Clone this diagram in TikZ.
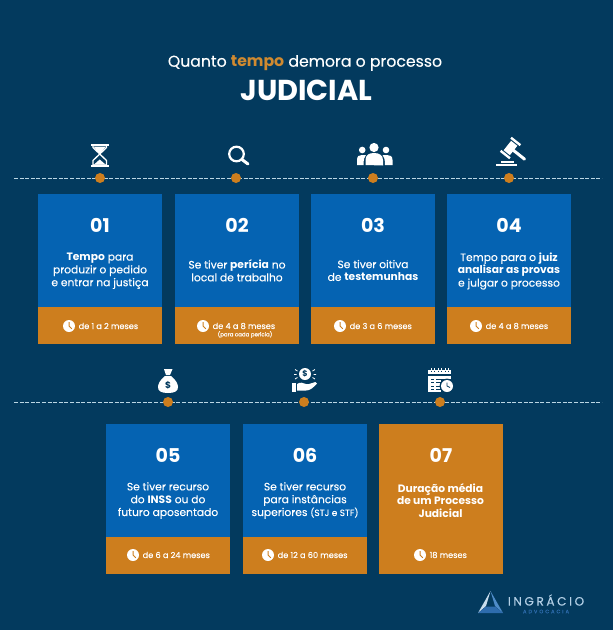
\documentclass[tikz,border=0pt]{standalone}
\usepackage{fontspec}
\setmainfont{Poppins}[UprightFeatures={FakeBold=0.25}]
\definecolor{bg}{HTML}{033A5E}
\definecolor{cardblue}{HTML}{0563B2}
\definecolor{cardorange}{HTML}{CD7E1E}
\definecolor{titleorange}{HTML}{D08A30}
\definecolor{dash}{HTML}{BBD6E4}
\definecolor{logolight}{HTML}{C9DDEE}
\definecolor{logomid}{HTML}{4F8CC9}
\definecolor{logodark}{HTML}{2E6CAD}
\definecolor{logotext}{HTML}{B4D0E6}
\tikzset{
  x=1pt,y=-1pt,
  panel/.style={inner sep=0pt,outer sep=0pt,minimum width=124pt},
  numtext/.style={text=white,font=\fontsize{19}{20}\selectfont\bfseries,inner sep=0pt},
  bodytext/.style={text=white,font=\fontsize{10.7}{12.8}\selectfont,align=center,inner sep=0pt},
  timetext/.style={text=white,font=\fontsize{8.2}{9}\selectfont,anchor=west,inner sep=0pt},
  smalltext/.style={text=white,font=\fontsize{5.5}{6}\selectfont,inner sep=0pt},
  clockface/.style={circle,fill=white,minimum size=12pt,inner sep=0pt},
  dotmark/.style={circle,fill=cardorange,minimum size=10pt,inner sep=0pt},
  timeline/.style={draw=dash,line width=0.9pt,dash pattern=on 4pt off 1.6pt},
}
% card: name, center x, top y, number, text y, text
\newcommand{\stepcard}[6]{%
  \node[panel,fill=cardblue,minimum height=113pt] (#1top) at (#2,#3+56.5) {};
  \node[panel,fill=cardorange,minimum height=37pt] (#1bot) at (#2,#3+131.5) {};
  \node[numtext] (#1num) at (#2,#3+31) {#4};
  \node[bodytext] (#1txt) at (#2,#5) {#6};
}
% time: name, clock x, y, text
\newcommand{\clockat}[4]{%
  \node[clockface] (#1clock) at (#2,#3) {};
  \draw[cardorange,line width=1pt] (#2,#3-3.8) -- (#2,#3) -- (#2+2.8,#3+2.8);
  \node[timetext] (#1time) at (#2+9.5,#3) {#4};
}
\begin{document}
\begin{tikzpicture}
\useasboundingbox (0,0) rectangle (613,630);
\fill[bg] (0,0) rectangle (613,630);
% title
\node[text=white,font=\fontsize{15.7}{17}\selectfont,inner sep=0pt] (title) at (305,63) {Quanto \textcolor{titleorange}{\textbf{tempo}} demora o processo};
\node[text=white,font=\fontsize{28.8}{32}\selectfont\bfseries,inner sep=0pt] (subtitle) at (306.5,90) {JUDICIAL};
% timelines
\coordinate (la) at (14,178); \coordinate (lb) at (602,178);
\coordinate (lc) at (14,402); \coordinate (ld) at (602,402);
\draw[timeline] (la) -- (lb);
\draw[timeline] (lc) -- (ld);
\foreach \n/\x/\y in {d1/100/178,d2/236/178,d3/373/178,d4/509/178,d5/168/402,d6/304/402,d7/440/402}
  \node[dotmark] (\n) at (\x,\y) {};
% cards row 1
\stepcard{a}{100}{194}{01}{271}{\textbf{Tempo} para\\produzir o pedido\\e entrar na justiça}
\clockat{a}{69}{326}{de 1 a 2 meses}
\stepcard{b}{237}{194}{02}{270.5}{Se tiver \textbf{perícia} no\\local de trabalho}
\clockat{b}{203}{326}{de 4 a 8 meses}
\node[smalltext] (bnote) at (245,334.5) {(para cada perícia)};
\stepcard{c}{373}{194}{03}{270.5}{Se tiver oitiva\\de \textbf{testemunhas}}
\clockat{c}{340}{326}{de 3 a 6 meses}
\stepcard{d}{509}{194}{04}{271}{Tempo para o \textbf{juiz}\\\textbf{analisar as provas}\\e julgar o processo}
\clockat{d}{476}{326}{de 4 a 8 meses}
% cards row 2
\stepcard{e}{168}{424}{05}{500.5}{Se tiver recurso\\do \textbf{INSS} ou do\\futuro aposentado}
\clockat{e}{133}{555}{de 6 a 24 meses}
\stepcard{f}{305}{424}{06}{500.5}{Se tiver recurso\\para instâncias\\superiores {\fontsize{9}{12.8}\selectfont(STJ e STF)}}
\clockat{f}{268}{555}{de 12 a 60 meses}
\node[panel,fill=cardorange,minimum height=150pt] (gtop) at (440.5,499) {};
\node[numtext] (gnum) at (441,455) {07};
\node[bodytext,font=\fontsize{10.7}{12.8}\selectfont\bfseries] (gtxt) at (440.5,500.5) {Duração média\\de um Processo\\Judicial};
\clockat{g}{420}{555}{18 meses}
% hourglass
\fill[white] (91,144) rectangle (108.5,146.4);
\fill[white] (91,164.6) rectangle (108.5,167);
\draw[white,line width=1.3pt,line join=round] (93,146) -- (93,147.5) -- (106.5,160.5) -- (106.5,165) -- (93,165) -- (93,160.5) -- (106.5,147.5) -- (106.5,146);
\fill[white] (93.5,146.5) -- (106,146.5) -- (99.7,154) -- cycle;
\fill[white] (94,164.5) -- (105.5,164.5) -- (99.7,159.5) -- cycle;
% magnifier
\draw[white,line width=2.2pt] (236.5,154) circle (7.3pt);
\draw[white,line width=3pt,line cap=round] (242,159.5) -- (248,164);
% people
\fill[white] (374,147.5) circle (4.6pt);
\fill[white] (362.2,150) circle (3.3pt);
\fill[white] (386,150) circle (3.3pt);
\fill[white] (365.5,165) -- (365.5,160) .. controls (365.5,155) and (369,153) .. (374,153) .. controls (379,153) and (383,155) .. (383,160) -- (383,165.5) -- cycle;
\fill[white] (357,165) -- (357,160) .. controls (357,156) and (359,155) .. (362,155) -- (366,155) .. controls (364.5,157) and (363.5,159) .. (363.5,165) -- cycle;
\fill[white] (392.5,165) -- (392.5,160) .. controls (392.5,156) and (390,155) .. (387,155) -- (382.5,155) .. controls (384,157) and (385,159) .. (385,165) -- cycle;
% gavel
\begin{scope}[shift={(510.5,148)},x={(0.78pt,-0.62pt)},y={(-0.62pt,-0.78pt)}]
\fill[white] (-4,-6) -- (4,-6) -- (4,6) -- (-4,6) -- cycle;
\fill[white] (-6,-9.6) -- (6,-9.6) -- (6,-7.2) -- (-6,-7.2) -- cycle;
\fill[white] (-6,7.2) -- (6,7.2) -- (6,9.6) -- (-6,9.6) -- cycle;
\draw[white,line width=3pt,line cap=round] (0,0) -- (18,0);
\end{scope}
\fill[white] (501,160.5) rectangle (514,163);
\fill[white] (496,163.7) rectangle (517,166);
% money bag
\fill[white] (164,369) -- (172.5,369) -- (170,375) -- (166,375) -- cycle;
\fill[white] (165,376) -- (171,376) .. controls (176,380) and (178,384) .. (178,387) .. controls (178,391) and (175,393) .. (168,393) .. controls (161,393) and (158,391) .. (158,387) .. controls (158,384) and (160,380) .. (165,376) -- cycle;
\node[text=bg,font=\fontsize{9}{10}\selectfont\bfseries,inner sep=0pt] (bagsign) at (168,385) {\$};
% coin in hand
\fill[white] (305,374) circle (6pt);
\node[text=bg,font=\fontsize{8}{9}\selectfont\bfseries,inner sep=0pt] (coinsign) at (305,374) {\$};
\draw[white,line width=0.8pt] (295,369.5) -- (297.5,371) (294,374.5) -- (296.5,374.5) (295,379) -- (297.5,377.5) (315,369.5) -- (312.5,371) (316,374.5) -- (313.5,374.5) (315,379) -- (312.5,377.5);
\fill[white] (292,383) rectangle (296,392);
\fill[white] (297,384) .. controls (300,382) and (303,382.5) .. (306,384) -- (309,384) -- (315.5,382) -- (317,383.5) .. controls (313,388) and (310,390.5) .. (306,390.5) -- (297,390.5) -- cycle;
% calendar
\fill[white] (428,369.5) rectangle (451,374.2);
\foreach \xx in {431,434.5,438,441.5,445,448.5}
  \draw[white,line width=1pt] (\xx,368) -- (\xx,370);
\foreach \xx in {431,434.5,438,441.5,445,448.5}
  \draw[bg,line width=0.6pt] (\xx,370.5) -- (\xx,372);
\fill[white] (428,376) rectangle (441,392);
\foreach \yy in {379,382.5,386,389}
  \draw[bg,line width=0.7pt] (431,\yy) -- (434,\yy) (436,\yy) -- (441,\yy);
\fill[white] (441,376) rectangle (451,379);
\fill[bg] (447,386) circle (7.4pt);
\fill[white] (447,386) circle (6pt);
\draw[bg,line width=0.8pt] (447,382.5) -- (447,386) -- (450,387.5);
% logo
\fill[logolight] (490.5,591) -- (478,613) -- (486,606) -- cycle;
\fill[logomid] (490.5,591) -- (503,613) -- (495,606) -- cycle;
\fill[logodark] (478,613) -- (503,613) -- (495,606.5) -- (486,606.5) -- cycle;
\node[text=logotext,font=\fontsize{12}{13}\selectfont,inner sep=0pt] (brand) at (546,600) {\addfontfeature{LetterSpace=22}INGRÁCIO};
\node[text=logodark,font=\fontsize{5}{6}\selectfont,inner sep=0pt] (brandsub) at (546,611.5) {\addfontfeature{LetterSpace=40}ADVOCACIA};
\end{tikzpicture}
\end{document}
